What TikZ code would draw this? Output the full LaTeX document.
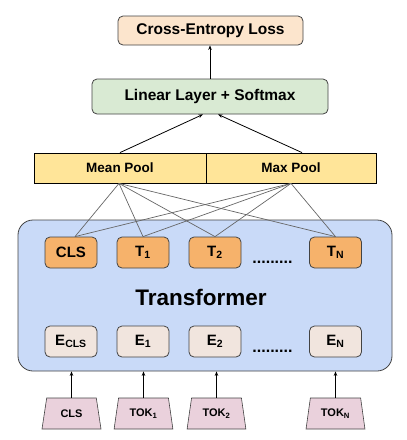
\documentclass[tikz,border=0pt]{standalone}
\usepackage{fontspec}
\setmainfont{Liberation Sans}
\usetikzlibrary{positioning}
\usetikzlibrary{shapes.geometric}
\usetikzlibrary{arrows.meta}

\definecolor{lossfill}{HTML}{FCE5CD}
\definecolor{linfill}{HTML}{D9EAD3}
\definecolor{poolfill}{HTML}{FFE599}
\definecolor{transfill}{HTML}{C9DAF8}
\definecolor{outfill}{HTML}{F6B26B}
\definecolor{embfill}{HTML}{F1E5DE}
\definecolor{tokfill}{HTML}{EAD1DC}
\definecolor{boxline}{HTML}{434343}

\tikzset{
  every node/.style={font=\bfseries},
  >={Stealth[length=4.5pt,width=3.5pt]},
  roundbox/.style={draw=boxline, line width=0.8pt, rounded corners=5pt, inner sep=0pt},
  cellbox/.style={roundbox, minimum width=52pt, minimum height=31pt,
    font=\fontsize{15}{18}\selectfont\bfseries},
  outbox/.style={cellbox, fill=outfill},
  embbox/.style={cellbox, fill=embfill},
  poolbox/.style={draw=black, line width=0.8pt, fill=poolfill, minimum height=30pt,
    inner sep=0pt, font=\fontsize{13.5}{16}\selectfont\bfseries},
  tokbox/.style={trapezium, trapezium left angle=75, trapezium right angle=75,
    trapezium stretches=true, draw=boxline, line width=0.6pt, fill=tokfill,
    minimum width=59pt, minimum height=31pt, inner sep=0pt,
    font=\fontsize{11}{13}\selectfont\bfseries},
  link/.style={draw=black!60, line width=0.7pt},
  dotrow/.style={anchor=base, font=\fontsize{16}{18}\selectfont\bfseries}
}

\begin{document}
\begin{tikzpicture}[x=1pt, y=-1pt]
  \useasboundingbox (0,0) rectangle (407,440);

  % transformer block
  \node [roundbox, rounded corners=15pt, fill=transfill, minimum width=374pt,
    minimum height=151pt] (trans) at (205,295.5) {};
  \node [font=\fontsize{22.5}{26}\selectfont\bfseries] (translabel) at (201,297) {Transformer};

  % outputs
  \node [outbox] (cls) at (71,252.5) {CLS};
  \node [outbox] (t1) at (143,252.5) {T\textsubscript{1}};
  \node [outbox] (t2) at (215,252.5) {T\textsubscript{2}};
  \node [outbox] (tn) at (335.5,252.5) {T\textsubscript{N}};
  \node [dotrow] (tdots) at (272.5,263) {.........};

  % embeddings
  \node [embbox] (ecls) at (71,341.5) {E\textsubscript{CLS}};
  \node [embbox] (e1) at (143,341.5) {E\textsubscript{1}};
  \node [embbox] (e2) at (215,341.5) {E\textsubscript{2}};
  \node [embbox] (en) at (335.5,341.5) {E\textsubscript{N}};
  \node [dotrow] (edots) at (272.5,352) {.........};

  % input tokens
  \node [tokbox] (tokcls) at (71.5,413.5) {CLS};
  \node [tokbox] (tok1) at (143.5,413.5) {TOK\textsubscript{1}};
  \node [tokbox] (tok2) at (216.5,413.5) {TOK\textsubscript{2}};
  \node [tokbox] (tokn) at (335.5,413.5) {TOK\textsubscript{N}};

  \foreach \tok in {tokcls,tok1,tok2,tokn}
    \draw [->, line width=0.7pt] (\tok.north) -- (\tok.north |- trans.south);

  % pooling
  \node [poolbox, minimum width=172pt] (mean) at (120,168) {Mean Pool};
  \node [poolbox, minimum width=170pt] (max) at (291,168) {Max Pool};

  \foreach \cell in {t1,t2,tn} {
    \draw [link] ([xshift=-1pt]mean.south) -- (\cell.north);
    \draw [link] (max.south) -- (\cell.north);
  }
  \draw [link] ([xshift=-1pt]mean.south) -- ([xshift=4pt]cls.north);
  \draw [link] (max.south) -- ([xshift=4pt]cls.north);

  % head
  \node [roundbox, fill=linfill, minimum width=236pt, minimum height=35pt,
    font=\fontsize{15.5}{18}\selectfont\bfseries] (linear) at (210,96.5) {Linear Layer + Softmax};
  \node [roundbox, fill=lossfill, minimum width=185pt, minimum height=29pt,
    font=\fontsize{15.5}{18}\selectfont\bfseries] (loss) at (210.5,30.5) {Cross-Entropy Loss};

  \draw [->, line width=0.8pt] (mean.north) -- ([xshift=-7pt]linear.south);
  \draw [->, line width=0.8pt] ([xshift=11pt]max.north) -- ([xshift=8pt]linear.south);
  \draw [->, line width=0.8pt] (linear.north) -- (linear.north |- loss.south);
\end{tikzpicture}
\end{document}
